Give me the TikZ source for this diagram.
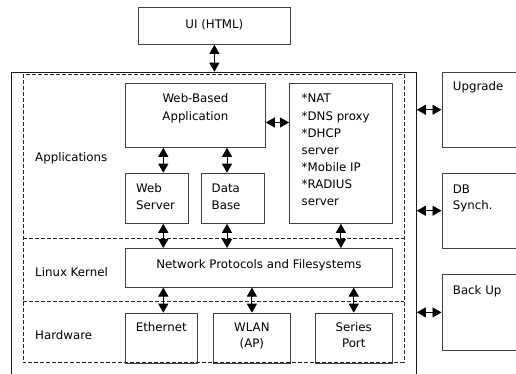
\documentclass[tikz,border=0pt]{standalone}
\usepackage{fontspec}
\setmainfont{DejaVu Sans}
\usetikzlibrary{arrows.meta,calc}
\begin{document}
\begin{tikzpicture}[x=1pt,y=-1pt,
  box/.style={draw=black!75,line width=0.8pt,rectangle,inner sep=0pt,anchor=north west},
  txt/.style={inner sep=0pt,font=\fontsize{11.8}{17}\selectfont,anchor=base west},
  ctxt/.style={inner sep=0pt,font=\fontsize{11.8}{17}\selectfont,anchor=base},
  dashln/.style={draw=black!85,line width=0.8pt,dash pattern=on 4pt off 2pt},
  arr/.style={line width=0.9pt,{Triangle[length=9pt,width=10pt]}-{Triangle[length=9pt,width=10pt]}}
]
\clip (0,0) rectangle (516,374);
\fill[white] (0,0) rectangle (516,374);
% top UI
\node[box,minimum width=152pt,minimum height=37pt] (ui) at (138,7) {};
\node[ctxt] (uit) at (ui.center |- 0,29) {UI (HTML)};
% outer frame
\node[box,draw=black!90,minimum width=405pt,minimum height=320pt] (outer) at (11,71.7) {};
% dashed region
\coordinate (dtl) at (23,74);
\coordinate (dbr) at (404,362.7);
\draw[dashln] (dtl) rectangle (dbr);
\coordinate (s1l) at (23,238);
\coordinate (s1r) at (404,238);
\coordinate (s2l) at (23,301.7);
\coordinate (s2r) at (404,301.7);
\draw[dashln] (s1l) -- (s1r);
\draw[dashln] (s2l) -- (s2r);
% layer labels
\node[txt] (lapp) at (35,161) {Applications};
\node[txt] (llk) at (35,276) {Linux Kernel};
\node[txt] (lhw) at (35,339) {Hardware};
% application boxes
\node[box,minimum width=140pt,minimum height=64pt] (webapp) at (125,83) {};
\node[ctxt] (webapp1) at (webapp.north |- 0,103) {Web-Based};
\node[ctxt] (webapp2) at (webapp.north |- 0,120.5) {Application};
\node[box,minimum width=103pt,minimum height=140pt] (nat) at (289,83) {};
\node[txt] (nat1) at (301.5,103) {*NAT};
\node[txt] (nat2) at (301.5,120.5) {*DNS proxy};
\node[txt] (nat3) at (301.5,137.5) {*DHCP};
\node[txt] (nat4) at (301.5,154.5) {server};
\node[txt] (nat5) at (301.5,171.5) {*Mobile IP};
\node[txt] (nat6) at (301.5,189) {*RADIUS};
\node[txt] (nat7) at (301.5,205.5) {server};
\node[box,minimum width=63pt,minimum height=50.3pt] (ws) at (125,172.7) {};
\node[txt] (ws1) at (136,192.3) {Web};
\node[txt] (ws2) at (136,209) {Server};
\node[box,minimum width=63pt,minimum height=50.3pt] (db) at (201,172.7) {};
\node[txt] (db1) at (211.5,192.3) {Data};
\node[txt] (db2) at (211.5,209) {Base};
% kernel
\node[box,minimum width=267pt,minimum height=38.7pt] (net) at (125,248) {};
\node[ctxt] (nett) at (net.north |- 0,268) {Network Protocols and Filesystems};
% hardware
\node[box,minimum width=71.7pt,minimum height=50.6pt] (eth) at (125,312.7) {};
\node[ctxt] (eth1) at (eth.north |- 0,331.3) {Ethernet};
\node[box,minimum width=77pt,minimum height=50.6pt] (wlan) at (213,312.7) {};
\node[ctxt] (wlan1) at (wlan.north |- 0,331.3) {WLAN};
\node[ctxt] (wlan2) at (wlan.north |- 0,347.5) {(AP)};
\node[box,minimum width=76.7pt,minimum height=50.6pt] (ser) at (315,312.7) {};
\node[ctxt] (ser1) at (ser.north |- 0,331.3) {Series};
\node[ctxt] (ser2) at (ser.north |- 0,347.5) {Port};
% right side boxes
\node[box,minimum width=90pt,minimum height=75.3pt] (upg) at (441.5,71.7) {};
\node[txt] (upgt) at (452.7,91) {Upgrade};
\node[box,minimum width=90pt,minimum height=75.3pt] (dbs) at (441.5,172.7) {};
\node[txt] (dbs1) at (452.7,193.3) {DB};
\node[txt] (dbs2) at (452.7,209.5) {Synch.};
\node[box,minimum width=90pt,minimum height=76pt] (bak) at (441.5,274) {};
\node[txt] (bakt) at (452.7,294.7) {Back Up};
% connectors
\coordinate (c1) at (163.3,0);
\coordinate (c2) at (227,0);
\coordinate (h1) at (0,122.5);
\draw[arr] (ui.south) -- (ui.south |- outer.north);
\draw[arr] (webapp.east |- h1) -- (nat.west |- h1);
\draw[arr] (c1 |- webapp.south) -- (c1 |- ws.north);
\draw[arr] (c2 |- webapp.south) -- (c2 |- db.north);
\draw[arr] (c1 |- ws.south) -- (c1 |- net.north);
\draw[arr] (c2 |- db.south) -- (c2 |- net.north);
\draw[arr] (nat.south) -- (nat.south |- net.north);
\draw[arr] (c1 |- net.south) -- (c1 |- eth.north);
\draw[arr] (wlan.north |- net.south) -- (wlan.north);
\draw[arr] (ser.north |- net.south) -- (ser.north);
\draw[arr] (upg.west -| outer.east) -- (upg.west);
\draw[arr] (dbs.west -| outer.east) -- (dbs.west);
\draw[arr] (bak.west -| outer.east) -- (bak.west);
\end{tikzpicture}
\end{document}
